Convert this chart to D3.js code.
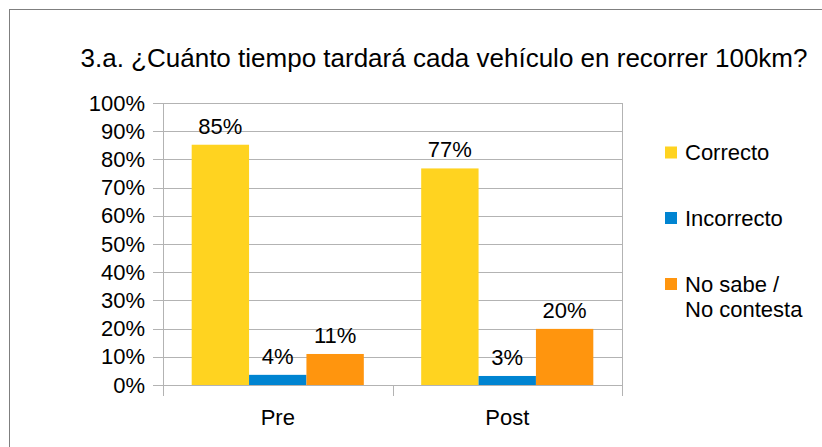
<html>
<head>
<meta charset="utf-8">
<script src="https://d3js.org/d3.v7.min.js"></script>
<style>
  body { margin: 0; padding: 0; background: #fff; }
  text { font-family: "Liberation Sans", Arial, sans-serif; fill: #000; }
</style>
</head>
<body>
<svg id="chart" width="822" height="447"></svg>
<script>
const categories = ["Pre", "Post"];
const seriesNames = ["Correcto", "Incorrecto", "No sabe / No contesta"];
const correcto = [0.852, 0.768];
const incorrecto = [0.036, 0.032];
const noSabe = [0.11, 0.199];
const yTicks = [0, 0.1, 0.2, 0.3, 0.4, 0.5, 0.6, 0.7, 0.8, 0.9, 1];
const colors = ["#ffd320", "#0084d1", "#ff950e"];

const series = [correcto, incorrecto, noSabe];

const svg = d3.select("#chart");

// outer frame
svg.append("rect")
  .attr("x", 9.5).attr("y", 9.5)
  .attr("width", 830).attr("height", 460)
  .attr("fill", "none").attr("stroke", "#7f7f7f");

svg.append("text")
  .attr("x", 444).attr("y", 67)
  .attr("text-anchor", "middle")
  .style("font-size", "26px")
  .text("3.a. ¿Cuánto tiempo tardará cada vehículo en recorrer 100km?");

const plot = { left: 163, right: 622, top: 103, bottom: 385 };

const x = d3.scaleBand().domain(categories)
  .range([plot.left, plot.right]).paddingInner(0).paddingOuter(0);
const xSub = d3.scaleBand().domain(d3.range(series.length))
  .range([0, x.bandwidth()]).paddingOuter(0.5).paddingInner(0);
const y = d3.scaleLinear().domain([0, 1]).range([plot.bottom, plot.top]);

// grid
svg.append("g").selectAll("line").data(yTicks).join("line")
  .attr("x1", plot.left - 10).attr("x2", plot.right)
  .attr("y1", d => Math.round(y(d)) + 0.5).attr("y2", d => Math.round(y(d)) + 0.5)
  .attr("stroke", "#b3b3b3");

// vertical axis line + right border + category ticks
const xEdges = [plot.left, x("Post"), plot.right];
svg.append("g").selectAll("line").data(xEdges).join("line")
  .attr("x1", d => Math.round(d) + 0.5).attr("x2", d => Math.round(d) + 0.5)
  .attr("y1", (d, i) => i === 1 ? plot.bottom : plot.top)
  .attr("y2", plot.bottom + 11)
  .attr("stroke", "#b3b3b3");

svg.append("g").selectAll("text").data(yTicks).join("text")
  .attr("x", 145).attr("y", d => y(d) + 7.5)
  .attr("text-anchor", "end")
  .style("font-size", "22px")
  .text(d => d3.format(".0%")(d));

svg.append("g").selectAll("text").data(categories).join("text")
  .attr("x", d => x(d) + x.bandwidth() / 2).attr("y", 425)
  .attr("text-anchor", "middle")
  .style("font-size", "22px")
  .text(d => d);

// bars
const groups = svg.append("g").selectAll("g").data(series).join("g")
  .attr("fill", (d, i) => colors[i]);

groups.each(function(vals, si) {
  const g = d3.select(this);
  g.selectAll("rect").data(vals).join("rect")
    .attr("x", (d, ci) => x(categories[ci]) + xSub(si))
    .attr("width", xSub.bandwidth())
    .attr("y", d => y(d))
    .attr("height", d => plot.bottom - y(d));
  g.selectAll("text").data(vals).join("text")
    .attr("x", (d, ci) => x(categories[ci]) + xSub(si) + xSub.bandwidth() / 2)
    .attr("y", d => y(d) - 11)
    .attr("text-anchor", "middle")
    .style("font-size", "22px")
    .text(d => d3.format(".0%")(d));
});

// legend
const legendY = [152.5, 218, 284];
const legend = svg.append("g").selectAll("g").data(seriesNames).join("g")
  .attr("transform", (d, i) => `translate(665,${legendY[i]})`);
legend.append("rect")
  .attr("x", 0).attr("y", -6).attr("width", 12).attr("height", 12)
  .attr("fill", (d, i) => colors[i]);
legend.append("text")
  .attr("x", 20).attr("y", 7.5)
  .style("font-size", "22px")
  .each(function(d) {
    const parts = d === "No sabe / No contesta" ? ["No sabe /", "No contesta"] : [d];
    d3.select(this).selectAll("tspan").data(parts).join("tspan")
      .attr("x", 20).attr("dy", (p, i) => i === 0 ? 0 : 25)
      .text(p => p);
  });
</script>
</body>
</html>
